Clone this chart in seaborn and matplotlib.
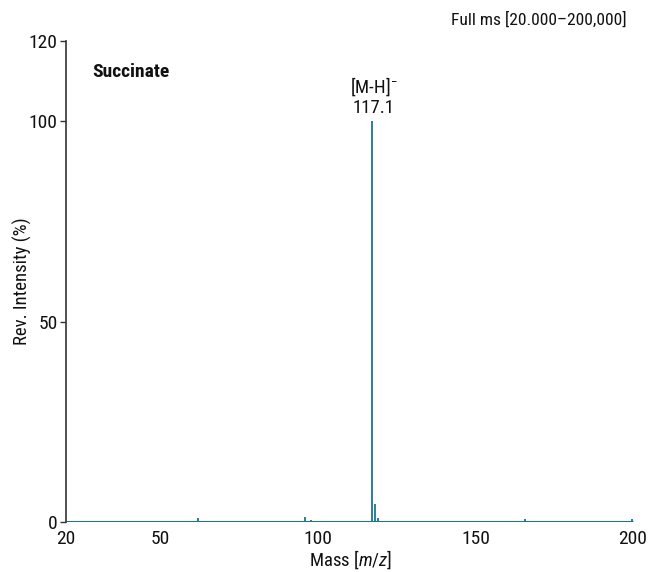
import matplotlib
matplotlib.use("Agg")
import matplotlib.pyplot as plt
from matplotlib import font_manager
import seaborn as sns
import pandas as pd

# Centroided peaks of the negative-ion full scan (m/z, relative intensity %)
peak_mz = [117.1, 118.1, 119.1, 61.9, 95.9, 97.8, 80.1, 133.6, 165.8, 173.7, 199.7]
peak_int = [100.0, 4.5, 0.9, 1.0, 1.2, 0.6, 0.35, 0.35, 0.8, 0.3, 0.8]

# Low-level chemical noise along the baseline
noise_mz = [24.5, 28.0, 31.2, 35.6, 38.9, 42.3, 45.1, 48.7, 52.4, 55.9, 58.8, 65.3,
            68.7, 71.9, 75.2, 78.4, 83.6, 86.9, 90.2, 93.1, 101.4, 104.8, 108.2,
            111.6, 114.3, 122.4, 126.1, 129.8, 137.2, 140.9, 144.3, 147.8, 151.2,
            155.1, 158.6, 162.0, 169.4, 177.3, 181.0, 184.6, 188.2, 191.8, 195.3]
noise_int = [0.25, 0.3, 0.2, 0.3, 0.25, 0.3, 0.2, 0.3, 0.25, 0.3, 0.2, 0.25,
             0.3, 0.2, 0.3, 0.25, 0.3, 0.2, 0.25, 0.3, 0.3, 0.2, 0.25,
             0.3, 0.25, 0.3, 0.2, 0.25, 0.3, 0.2, 0.25, 0.3, 0.2,
             0.25, 0.3, 0.2, 0.25, 0.3, 0.2, 0.3, 0.25, 0.2, 0.3]

y_ticks = [0, 50, 100, 120]
x_ticks = [20, 50, 100, 150, 200]

spectrum = pd.DataFrame({"mz": peak_mz + noise_mz, "intensity": peak_int + noise_int})

sns.set_theme(style="ticks")
installed = {f.name for f in font_manager.fontManager.ttflist}
families = [f for f in ["Roboto Condensed", "Liberation Sans Narrow", "Roboto", "DejaVu Sans"]
            if f in installed]
plt.rcParams["font.family"] = families
plt.rcParams["mathtext.fontset"] = "custom"
plt.rcParams["mathtext.it"] = families[0] + ":italic"
plt.rcParams["mathtext.rm"] = families[0]
plt.rcParams["text.color"] = "#111111"
plt.rcParams["axes.labelcolor"] = "#111111"
plt.rcParams["xtick.color"] = "#111111"
plt.rcParams["ytick.color"] = "#111111"

teal = "#1c7391"
fs = 13.5

fig = plt.figure(figsize=(6.51, 5.72), dpi=100)
ax = fig.add_axes([0.1014, 0.0874, 0.8756, 0.8409])

ax.vlines(spectrum["mz"], 0, spectrum["intensity"], color=teal, linewidth=1.3)
ax.hlines(0, 20, 200, color=teal, linewidth=2.2)

ax.set_xlim(20, 201)
ax.set_ylim(0, 120)
ax.set_xticks(x_ticks)
ax.set_yticks(y_ticks)
ax.tick_params(axis="y", length=4, width=1, color="#333333", labelsize=14, pad=2)
ax.tick_params(axis="x", length=0, labelsize=14, pad=6)

for side in ("top", "right", "bottom"):
    ax.spines[side].set_visible(False)
ax.spines["left"].set_color("#333333")
ax.spines["left"].set_linewidth(1.2)

ax.set_ylabel("Rev. Intensity (%)", fontsize=fs, labelpad=-2)
ax.set_xlabel(r"Mass [$\it{m/z}$]", fontsize=fs, labelpad=0)

ax.text(0.046, 0.935, "Succinate", transform=ax.transAxes, fontsize=14,
        fontweight="bold", ha="left", va="center")
ax.text(peak_mz[0] + 0.6, 108.5, "[M-H]$^{-}$", fontsize=fs, ha="center", va="center")
ax.text(peak_mz[0] + 0.6, 103.2, f"{peak_mz[0]:.1f}", fontsize=fs, ha="center", va="center")
fig.text(0.963, 0.965, "Full ms [20.000–200,000]", fontsize=12.6, ha="right", va="center")

fig.savefig("out.png", dpi=100)
